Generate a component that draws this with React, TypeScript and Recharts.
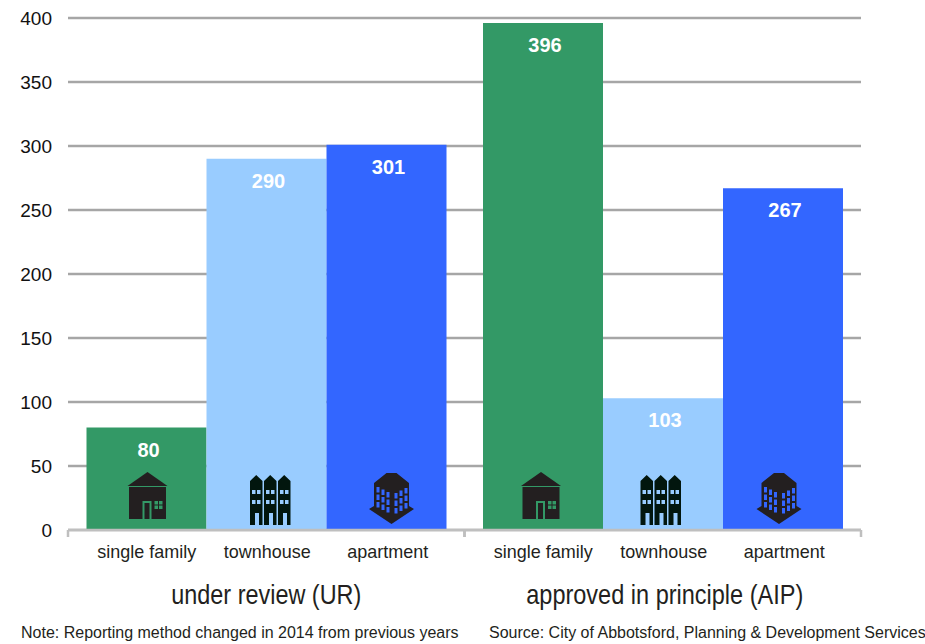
import { BarChart, Bar, XAxis, YAxis, CartesianGrid, LabelList } from "recharts";

const groups = ["under review (UR)", "approved in principle (AIP)"];
const singleFamily = [80, 396];
const townhouse = [290, 103];
const apartment = [301, 267];
const yTicks = [0, 50, 100, 150, 200, 250, 300, 350, 400];
const subLabels = ["single family", "townhouse", "apartment"];
const noteText = "Note: Reporting method changed in 2014 from previous years";
const sourceText = "Source: City of Abbotsford, Planning & Development Services";

const datos = groups.map((grupo, i) => ({
  grupo,
  singleFamily: singleFamily[i],
  townhouse: townhouse[i],
  apartment: apartment[i],
}));

const FONT = "'Liberation Sans', Arial, sans-serif";
const GREEN = "#339966";
const LIGHT = "#99ccff";
const BLUE = "#3366ff";

// small nudges, the icons are not exactly centred on the bars
const houseShift = [1, -2];
const townShift = [4, -2];
const aptShift = [5, -4];

// the labels in the original are squeezed sideways, so fix their widths
const subWidths = [99, 87, 81];
const groupWidths = [190, 277];

const HouseIcon = ({ x, y, width, height, index }: any) => {
  const cx = x + width / 2 + houseShift[index];
  const b = y + height;
  return (
    <g transform={`translate(${cx},${b})`}>
      <path d="M0,-58 L20,-44 L-20,-44 Z" fill="#231f20" />
      <rect x={-18.5} y={-43} width={37} height={32} fill="#231f20" />
      <rect x={-5} y={-29} width={9} height={18} fill={GREEN} />
      <rect x={-3} y={-27} width={5} height={16} fill="#231f20" />
      {[7, 11.5].map((wx) =>
        [-29, -24.5].map((wy) => (
          <rect key={`${wx}${wy}`} x={wx} y={wy} width={3.5} height={3.5} fill={GREEN} />
        ))
      )}
    </g>
  );
};

const TownIcon = ({ x, y, width, height, index }: any) => {
  const cx = x + width / 2 + townShift[index];
  const b = y + height;
  return (
    <g transform={`translate(${cx},${b})`}>
      {[-20.5, -6.5, 7.5].map((ux) => (
        <g key={ux}>
          <path
            d={`M${ux},-49 L${ux + 6.2},-55 L${ux + 12.5},-49 L${ux + 12.5},-5 L${ux + 9},-5 L${ux + 9},-17 L${ux + 5},-17 L${ux + 5},-5 L${ux},-5 Z`}
            fill="#02160e"
          />
          <rect x={ux + 2} y={-40} width={3.5} height={4} fill={LIGHT} />
          <rect x={ux + 7} y={-40} width={3.5} height={4} fill={LIGHT} />
          <rect x={ux + 2} y={-30} width={3.5} height={4} fill={LIGHT} />
          <rect x={ux + 7} y={-30} width={3.5} height={4} fill={LIGHT} />
        </g>
      ))}
    </g>
  );
};

const AptIcon = ({ x, y, width, height, index }: any) => {
  const cx = x + width / 2 + aptShift[index];
  const b = y + height;
  return (
    <g transform={`translate(${cx},${b})`}>
      <path
        d="M-5,-57 L5,-57 L17.5,-47 L17.5,-24 L22.5,-21 L0,-6 L-22.5,-21 L-17.5,-24 L-17.5,-47 Z"
        fill="#231f20"
      />
      {[0, 1, 2].map((col) =>
        [0, 1, 2].map((row) => (
          <g key={`${col}${row}`}>
            <rect
              x={-15 + col * 5}
              y={-43 + col * 2.5 + row * 7.5}
              width={3}
              height={5.5}
              fill={BLUE}
            />
            <rect
              x={3 + col * 5}
              y={-37 - col * 2.5 + row * 7.5}
              width={3}
              height={5.5}
              fill={BLUE}
            />
          </g>
        ))
      )}
    </g>
  );
};

const GroupTick = ({ x, y, payload, index }: any) => {
  const base = y - 6;
  return (
    <g>
      <path
        d={`M${x - 198.25},${base} v7 M${x + 198.25},${base} v7`}
        stroke="#bfbfbf"
        strokeWidth={2.5}
        fill="none"
      />
      {subLabels.map((s, i) => (
        <text
          key={s}
          x={x + (i - 1) * 120.5 + 1}
          y={base + 28}
          textAnchor="middle"
          fontSize={19}
          fontFamily={FONT}
          fill="#231f20"
          textLength={subWidths[i]}
          lengthAdjust="spacingAndGlyphs"
        >
          {s}
        </text>
      ))}
      <text
        x={x + index * 2}
        y={base + 74}
        textAnchor="middle"
        fontSize={28}
        fontFamily={FONT}
        fill="#231f20"
        textLength={groupWidths[index]}
        lengthAdjust="spacingAndGlyphs"
      >
        {payload.value}
      </text>
    </g>
  );
};

const labelStyle = { fontSize: 20, fontWeight: 700, fontFamily: FONT, fill: "#ffffff" };

export default function App() {
  return (
    <div style={{ position: "absolute", left: 0, top: 0, width: 925, height: 644 }}>
      <BarChart
        width={925}
        height={644}
        data={datos}
        margin={{ top: 18, right: 64, bottom: 0, left: 0 }}
        barCategoryGap={18.5}
        barGap={0}
      >
        <CartesianGrid vertical={false} stroke="#a6a6a6" strokeWidth={2.5} />
        <XAxis
          dataKey="grupo"
          height={114}
          interval={0}
          tickLine={false}
          tickMargin={0}
          axisLine={{ stroke: "#bfbfbf", strokeWidth: 2.5 }}
          tick={<GroupTick />}
        />
        <YAxis
          width={68}
          domain={[0, 400]}
          ticks={yTicks}
          interval={0}
          axisLine={false}
          tickLine={false}
          tickMargin={10}
          tick={{ fontSize: 19, fontFamily: FONT, fill: "#111111" }}
        />
        <Bar dataKey="singleFamily" fill={GREEN} isAnimationActive={false}>
          <LabelList dataKey="singleFamily" position="insideTop" offset={15} dx={2} style={labelStyle} />
          <LabelList dataKey="singleFamily" content={<HouseIcon />} />
        </Bar>
        <Bar dataKey="townhouse" fill={LIGHT} isAnimationActive={false}>
          <LabelList dataKey="townhouse" position="insideTop" offset={15} dx={2} style={labelStyle} />
          <LabelList dataKey="townhouse" content={<TownIcon />} />
        </Bar>
        <Bar dataKey="apartment" fill={BLUE} isAnimationActive={false}>
          <LabelList dataKey="apartment" position="insideTop" offset={15} dx={2} style={labelStyle} />
          <LabelList dataKey="apartment" content={<AptIcon />} />
        </Bar>
      </BarChart>
      <div style={{ position: "absolute", left: 21, top: 624, fontSize: 16, lineHeight: "18px", fontFamily: FONT, color: "#231f20", whiteSpace: "nowrap" }}>
        {noteText}
      </div>
      <div style={{ position: "absolute", left: 489, top: 624, fontSize: 16, lineHeight: "18px", fontFamily: FONT, color: "#231f20", whiteSpace: "nowrap" }}>
        {sourceText}
      </div>
    </div>
  );
}
